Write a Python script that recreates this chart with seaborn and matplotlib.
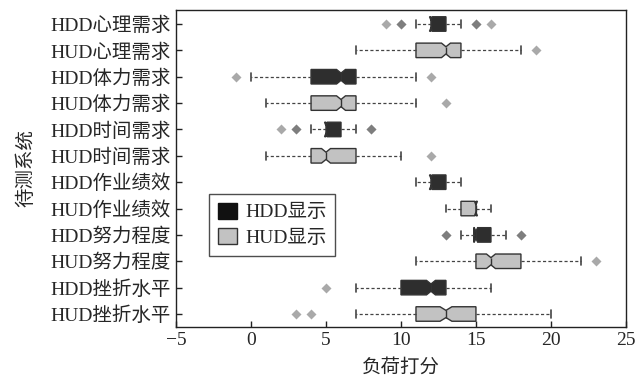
import numpy as np
import pandas as pd
import seaborn as sns
import matplotlib.pyplot as plt
from matplotlib.patches import Patch

# categories top to bottom
items = ["HDD心理需求", "HUD心理需求", "HDD体力需求", "HUD体力需求",
         "HDD时间需求", "HUD时间需求", "HDD作业绩效", "HUD作业绩效",
         "HDD努力程度", "HUD努力程度", "HDD挫折水平", "HUD挫折水平"]
display = ["HDD显示", "HUD显示"] * 6

# box statistics
whis_lo = [11, 7, 0, 1, 4, 1, 11, 13, 14, 11, 7, 7]
q1 = [12, 11, 4, 4, 5, 4, 12, 14, 14.85, 15, 10, 11]
median = [12, 13, 6, 6, 5, 5, 12, 15, 15, 16, 12, 13]
q3 = [13, 14, 7, 7, 6, 7, 13, 15, 16, 18, 13, 15]
whis_hi = [14, 18, 11, 11, 7, 10, 14, 16, 17, 22, 16, 20]
# outliers (repeated values show up darker)
outliers = [[9, 10, 10, 15, 15, 16], [19], [-1, 12], [13],
            [2, 3, 3, 8, 8], [12], [], [],
            [13, 13, 18, 18], [23], [5], [3, 4]]

m = 50  # samples per level
rows = []
for i, name in enumerate(items):
    vals = ([whis_lo[i]] * m + [q1[i]] * m + [median[i]] * m
            + [q3[i]] * m + [whis_hi[i]] * m + outliers[i])
    for v in vals:
        rows.append((name, display[i], v))
df = pd.DataFrame(rows, columns=["item", "display", "score"])

sns.set_style("ticks")
plt.rcParams['font.family'] = ['Liberation Serif', 'Noto Sans CJK SC']
plt.rcParams['xtick.direction'] = 'in'
plt.rcParams['ytick.direction'] = 'in'

fig, ax = plt.subplots(figsize=(6.38, 3.8), dpi=100)
fig.subplots_adjust(left=0.276, right=0.981, top=0.975, bottom=0.139)

pal = {"HDD显示": "#2e2e2e", "HUD显示": "#c2c2c2"}
sns.boxplot(data=df, x="score", y="item", hue="display", order=items,
            hue_order=["HDD显示", "HUD显示"], palette=pal, dodge=False,
            notch=True, width=0.55, whis=1.5, linecolor="#333333", linewidth=1,
            saturation=1, capwidths=0.3, legend=False, ax=ax,
            whiskerprops=dict(linestyle=(0, (2.5, 1.8)), color="#444444", linewidth=0.9),
            capprops=dict(color="#444444", linewidth=1.2),
            medianprops=dict(color="#333333", linewidth=1),
            flierprops=dict(marker="D", markersize=5, markerfacecolor="#555555",
                            markeredgecolor="none", alpha=0.5))

ax.set_xlim(-5, 25)
ax.set_ylim(11.5, -0.55)
ax.set_xticks([-5, 0, 5, 10, 15, 20, 25])
ax.tick_params(axis='both', labelsize=14, length=4, width=1, color='#222222')
ax.tick_params(top=False, right=False)
for s in ax.spines.values():
    s.set_visible(True)
    s.set_color('#222222')
    s.set_linewidth(1)
ax.set_xlabel("负荷打分", fontsize=14, labelpad=7)
ax.set_ylabel("待测系统", fontsize=14, labelpad=11)

handles = [Patch(facecolor="#111111", edgecolor="#111111", label="HDD显示"),
           Patch(facecolor="#c2c2c2", edgecolor="#333333", label="HUD显示")]
leg = ax.legend(handles=handles, loc="upper left", bbox_to_anchor=(0.052, 0.45),
                fontsize=14, frameon=True, fancybox=False, edgecolor="#222222",
                handlelength=1.0, handleheight=0.9, handletextpad=0.4,
                borderpad=0.45, labelspacing=0.35)
leg.get_frame().set_linewidth(1)

fig.savefig("out.png", dpi=100)
